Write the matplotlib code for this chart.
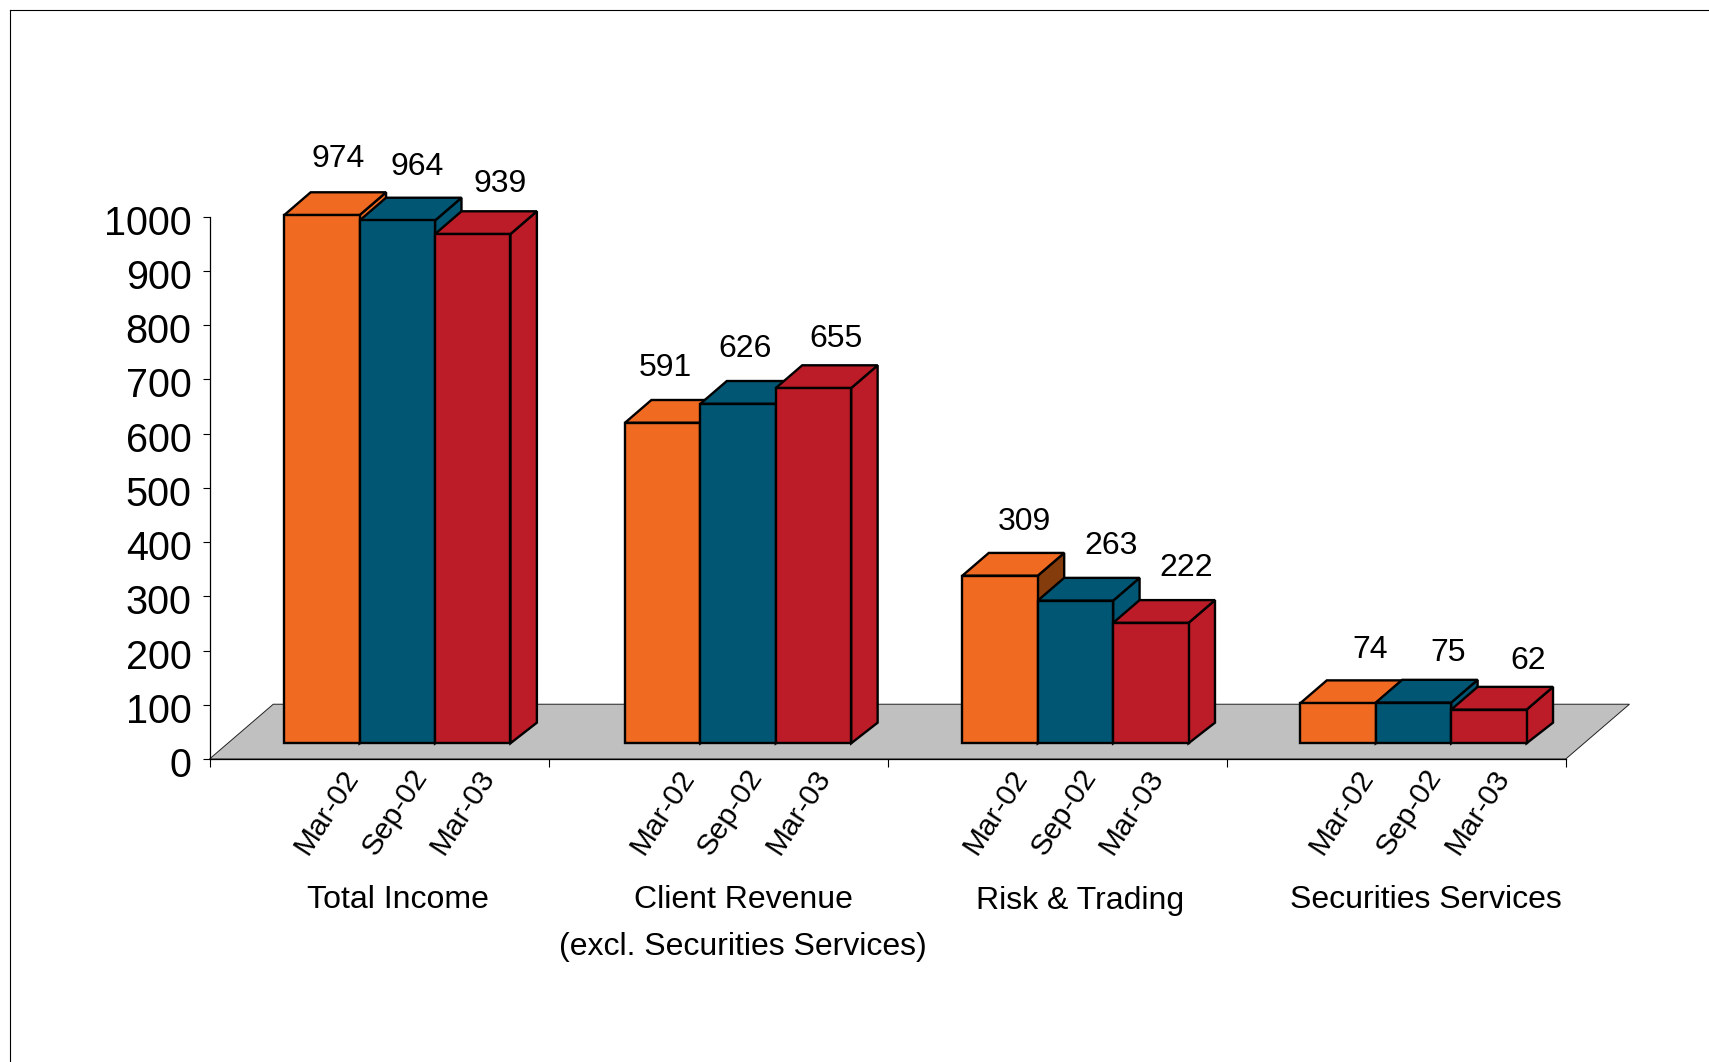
import matplotlib
matplotlib.use("Agg")
import matplotlib.pyplot as plt
from matplotlib.lines import Line2D
from matplotlib.patches import Polygon
from matplotlib.transforms import ScaledTranslation

plt.rcParams['font.family'] = ['Liberation Sans', 'DejaVu Sans']

groups = ['Total Income', 'Client Revenue\n(excl. Securities Services)', 'Risk & Trading', 'Securities Services']
periods = ['Mar-02', 'Sep-02', 'Mar-03']
mar02 = [974, 591, 309, 74]
sep02 = [964, 626, 263, 75]
mar03 = [939, 655, 222, 62]
yticks = [0, 100, 200, 300, 400, 500, 600, 700, 800, 900, 1000]

orange = '#F06A22'
teal = '#005673'
red = '#BB1C27'
series = [mar02, sep02, mar03]
front_colors = [orange, teal, red]
side_colors = [[orange, orange, '#843C0C', orange], [teal] * 4, [red] * 4]

# layout, px offsets picked by eye
bar_w = 0.2224
bar_shift = [0.054, 0.059, 0.054, 0.051]
base = 29
depth_x = 0.078
depth_top = 42
depth_bottom = 38
floor_x = 0.188
floor_y = 101
label_dx = [[16, 20, 27], [3, 7, 23], [24, 36, 35], [32, 35, 39]]
label_dy = [[56, 53, 50], [55, 55, 49], [54, 55, 55], [53, 50, 49]]
period_dx = [-52, -56, -61.5, -55]
title_dx = [18.5, 25, 23, 29.6]

W, H = 1709, 1062
fig = plt.figure(figsize=(W / 100, H / 100), dpi=100)
ax = fig.add_axes([209.5 / W, (H - 759) / H, (1565.7 - 209.5) / W, (759 - 216.7) / H])
ax.set_xlim(0, 4)
ax.set_ylim(0, 1000)
ax.patch.set_visible(False)

for s in ['top', 'right']:
    ax.spines[s].set_visible(False)
for s in ['left', 'bottom']:
    ax.spines[s].set_linewidth(0.9)
    ax.spines[s].set_zorder(1.5)

ax.set_yticks(yticks)
ax.set_xticks(range(5))
ax.set_xticklabels([])
ax.tick_params(axis='y', direction='out', length=5, width=0.8, pad=8, labelsize=28.5)
ax.tick_params(axis='x', direction='out', length=5.5, width=0.8)

# y labels sit a little under their ticks in the original
nudge = ScaledTranslation(0, -3 / 100, fig.dpi_scale_trans)
for t in ax.get_yticklabels():
    t.set_transform(t.get_transform() + nudge)

# grey floor
ax.add_patch(Polygon([(0, 0), (4, 0), (4 + floor_x, floor_y), (floor_x, floor_y)],
                     closed=True, facecolor='#C0C0C0', edgecolor='#222222', lw=0.7,
                     clip_on=False, zorder=1))

for g in range(len(groups)):
    center = g + 0.5 + bar_shift[g]
    for i in range(3):
        v = series[i][g]
        x0 = center + (i - 1.5) * bar_w
        x1 = x0 + bar_w
        top = base + v
        face = [(x0, base), (x1, base), (x1, top), (x0, top)]
        lid = [(x0, top), (x1, top), (x1 + depth_x, top + depth_top), (x0 + depth_x, top + depth_top)]
        side = [(x1, base), (x1 + depth_x, base + depth_bottom), (x1 + depth_x, top + depth_top), (x1, top)]
        z = 2 + g + i * 0.1
        ax.add_patch(Polygon(side, closed=True, facecolor=side_colors[i][g], edgecolor='black',
                             lw=1.7, joinstyle='miter', clip_on=False, zorder=z))
        ax.add_patch(Polygon(lid, closed=True, facecolor=front_colors[i], edgecolor='black',
                             lw=1.7, joinstyle='miter', clip_on=False, zorder=z))
        ax.add_patch(Polygon(face, closed=True, facecolor=front_colors[i], edgecolor='black',
                             lw=1.7, joinstyle='miter', clip_on=False, zorder=z))
        ax.annotate(str(v), xy=(x0 + bar_w / 2, top), xycoords='data',
                    xytext=(label_dx[g][i], label_dy[g][i]), textcoords='offset pixels',
                    ha='center', va='center', fontsize=23, annotation_clip=False, zorder=10)
        ax.annotate(periods[i], xy=(g + 0.5, 0), xycoords='data',
                    xytext=(period_dx[g] + i * 68, -53), textcoords='offset pixels',
                    ha='center', va='center', rotation=57, rotation_mode='anchor',
                    fontsize=21.5, annotation_clip=False)
    for k, line in enumerate(groups[g].split('\n')):
        ax.annotate(line, xy=(g + 0.5, 0), xycoords='data',
                    xytext=(title_dx[g], -149.5 - 46 * k), textcoords='offset pixels',
                    ha='center', va='baseline', fontsize=23, annotation_clip=False)

# thin frame, only top and left land on the page
fig.add_artist(Line2D([10 / W, 10 / W], [0, 1 - 10 / H], color='black', lw=0.8))
fig.add_artist(Line2D([10 / W, 1], [1 - 10 / H, 1 - 10 / H], color='black', lw=0.8))

fig.savefig('out.png', dpi=100, facecolor='white')
